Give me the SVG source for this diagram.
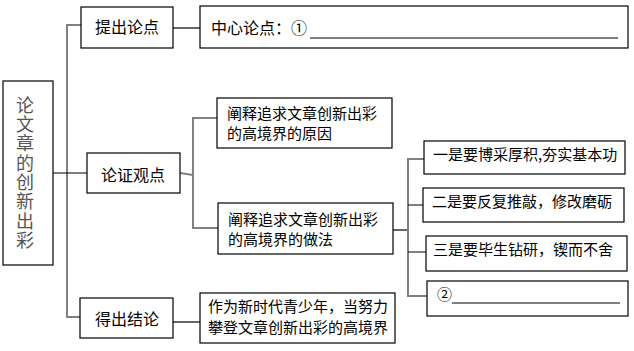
<svg xmlns="http://www.w3.org/2000/svg" width="634" height="351" viewBox="0 0 634 351">
<style>
.box{fill:#fff;stroke:#000;stroke-width:1.2}
.t{font-family:"Noto Sans CJK SC","Liberation Sans",sans-serif;font-size:15px;fill:#000}
.c{text-anchor:middle}
.br{fill:none;stroke:#808080;stroke-width:2}
.ln{fill:none;stroke:#000;stroke-width:1.2}
.root{font-family:"Noto Sans CJK SC","Liberation Sans",sans-serif;font-size:18px;fill:#555;writing-mode:vertical-rl;letter-spacing:1.3px}
</style>
<rect width="634" height="351" fill="#fff"/>
<g id="connectors">
<path class="br" d="M81,25 H67 V317 H80"/>
<path class="ln" d="M53,173 H87"/>
<path class="ln" d="M173,28 H200"/>
<path class="br" d="M180,173 L193,175 M217,118 H193 V228 H218"/>
<path class="ln" d="M173,322 H200"/>
<path class="ln" d="M393,230 H409"/>
<path class="br" d="M424,159 H408 V296 H427"/>
<path class="ln" d="M408,205 H423 M408,252 H426"/>
</g>
<g id="root">
<rect class="box" x="3" y="81" width="50" height="184"/>
<text class="root" x="25" y="96">论文章的创新出彩</text>
</g>
<g id="n-tichu">
<rect class="box" x="81" y="7" width="92" height="41"/>
<text class="t c" x="127" y="33" style="font-size:16px">提出论点</text>
</g>
<g id="n-zhongxin">
<rect class="box" x="200" y="6" width="428" height="42"/>
<text class="t" x="211" y="34" style="font-size:16px">中心论点：①</text>
<line class="ln" x1="310" y1="38" x2="618" y2="38"/>
</g>
<g id="n-lunzheng">
<rect class="box" x="87" y="153" width="93" height="40"/>
<text class="t c" x="133" y="181" style="font-size:16px">论证观点</text>
</g>
<g id="n-yuanyin">
<rect class="box" x="217" y="98" width="175" height="50"/>
<text class="t" x="227" y="119">阐释追求文章创新出彩</text>
<text class="t" x="227" y="139">的高境界的原因</text>
</g>
<g id="n-zuofa">
<rect class="box" x="218" y="203" width="175" height="51"/>
<text class="t" x="228" y="225">阐释追求文章创新出彩</text>
<text class="t" x="228" y="245">的高境界的做法</text>
</g>
<g id="n-1">
<rect class="box" x="424" y="141" width="201" height="33"/>
<text class="t" x="433" y="160">一是要博采厚积,夯实基本功</text>
</g>
<g id="n-2">
<rect class="box" x="423" y="188" width="201" height="34"/>
<text class="t" x="432" y="207">二是要反复推敲，修改磨砺</text>
</g>
<g id="n-3">
<rect class="box" x="426" y="236" width="201" height="35"/>
<text class="t" x="433" y="255">三是要毕生钻研，锲而不舍</text>
</g>
<g id="n-4">
<rect class="box" x="427" y="281" width="201" height="35"/>
<text class="t" x="437" y="300">②</text>
<line class="ln" x1="452" y1="303" x2="620" y2="303"/>
</g>
<g id="n-jielun">
<rect class="box" x="80" y="298" width="93" height="40"/>
<text class="t c" x="127" y="325" style="font-size:16px">得出结论</text>
</g>
<g id="n-jielun-text">
<rect class="box" x="200" y="293" width="195" height="50"/>
<text class="t" x="208" y="312">作为新时代青少年，当努力</text>
<text class="t" x="208" y="333">攀登文章创新出彩的高境界</text>
</g>
</svg>
